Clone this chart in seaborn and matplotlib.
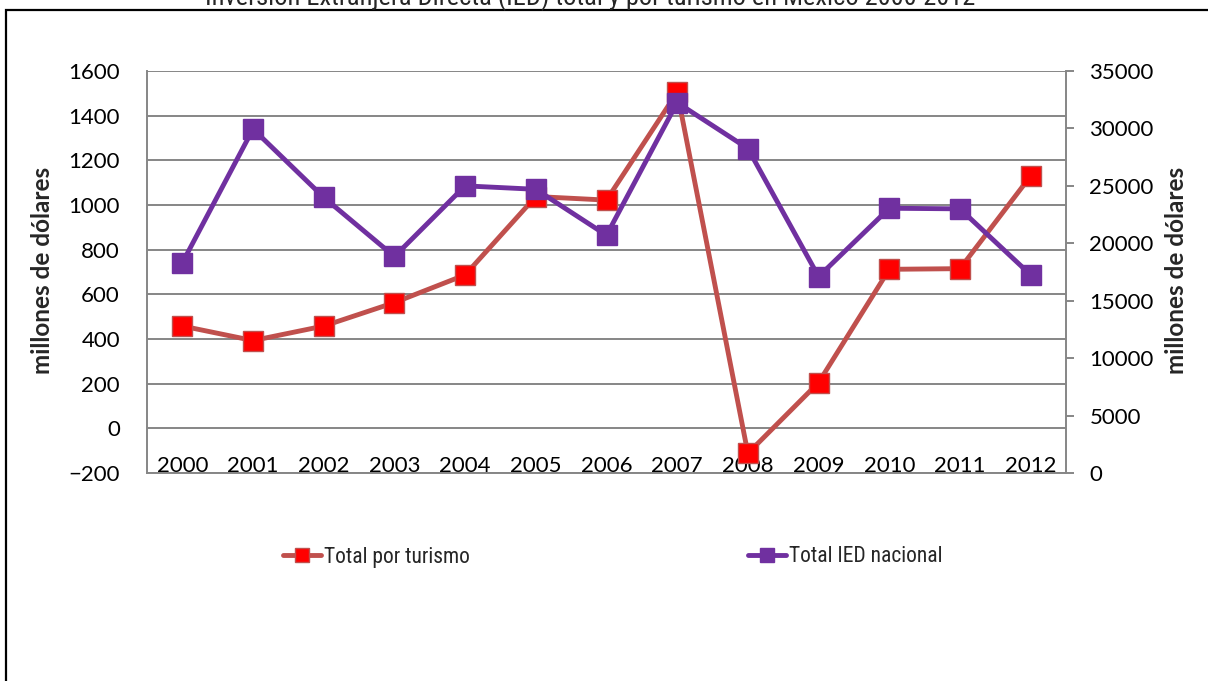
import matplotlib
matplotlib.use("Agg")
import matplotlib.pyplot as plt
from matplotlib import font_manager as fm
from matplotlib.lines import Line2D
from matplotlib.patches import Rectangle
import numpy as np
import pandas as pd
import seaborn as sns

# ---- data ----
years = ["2000", "2001", "2002", "2003", "2004", "2005", "2006",
         "2007", "2008", "2009", "2010", "2011", "2012"]
turismo = [458, 393, 458, 563, 687, 1038, 1022, 1505, -112, 205, 712, 715, 1130]
ied_nacional = [18300, 29950, 24000, 18850, 25000, 24700, 20700,
                32250, 28250, 17100, 23050, 23000, 17250]
left_ticks = [-200, 0, 200, 400, 600, 800, 1000, 1200, 1400, 1600]
right_ticks = [0, 5000, 10000, 15000, 20000, 25000, 30000, 35000]
title = "Inversión Extranjera Directa (IED) total y por turismo en México 2000-2012"
ylabel = "millones de dólares"
series_names = ["Total por turismo", "Total IED nacional"]

df = pd.DataFrame({"year": years, "turismo": turismo, "ied": ied_nacional})


def pick(names):
    for n in names:
        try:
            fm.findfont(fm.FontProperties(family=n), fallback_to_default=False)
            return n
        except Exception:
            pass
    return "DejaVu Sans"


sns.set_theme(style="white")
body_font = pick(["Lato", "Open Sans", "DejaVu Sans"])
narrow_font = pick(["Liberation Sans Narrow", "Roboto Condensed", "Liberation Sans"])
plt.rcParams["font.family"] = [body_font, "DejaVu Sans"]

W, H = 1208, 681
fig = plt.figure(figsize=(W / 100, H / 100), dpi=100)
fig.patch.set_facecolor("white")

x0, x1, y0, y1 = 147, 1066, 71, 473
ax = fig.add_axes([x0 / W, 1 - y1 / H, (x1 - x0) / W, (y1 - y0) / H])
ax2 = ax.twinx()

red_line = "#C0504D"
red_marker = "#FF0000"
purple = "#7030A0"
grey = "#868686"

sns.lineplot(data=df, x="year", y="turismo", ax=ax, sort=False, legend=False,
             color=red_line, lw=3.5, marker="s", markersize=14,
             markerfacecolor=red_marker, markeredgecolor=red_line, markeredgewidth=1)
sns.lineplot(data=df, x="year", y="ied", ax=ax2, sort=False, legend=False,
             color=purple, lw=3.5, marker="s", markersize=14,
             markerfacecolor=purple, markeredgecolor=purple, markeredgewidth=1)

ax.set_xlim(-0.5, len(years) - 0.5)
ax.set_ylim(-200, 1600)
ax2.set_ylim(0, 35000)
ax.set_yticks(left_ticks)
ax2.set_yticks(right_ticks)
ax.set_xticks(range(len(years)))
ax.set_xticklabels(years)

ax.set_xlabel("")
ax.set_ylabel("")
ax2.set_ylabel("")

ax.yaxis.grid(True, color=grey, lw=1.4)
ax.xaxis.grid(False)
ax2.grid(False)
ax.set_axisbelow(True)

for s in ["top", "right"]:
    ax.spines[s].set_visible(False)
for s in ["left", "bottom"]:
    ax.spines[s].set_color(grey)
    ax.spines[s].set_linewidth(1.4)
for s in ["left", "top", "bottom"]:
    ax2.spines[s].set_visible(False)
ax2.spines["right"].set_color(grey)
ax2.spines["right"].set_linewidth(1.4)

fs = 16
ax.tick_params(axis="x", length=0, pad=-12.5, labelsize=fs, labelcolor="black")
ax.tick_params(axis="y", left=False, length=0, pad=19.5, labelsize=fs, labelcolor="black")
ax2.tick_params(axis="y", right=True, length=5.8, width=1.4, color=grey, pad=11,
                labelsize=fs, labelcolor="black")

fig.text(43 / W, 1 - 270 / H, ylabel, rotation=90, ha="center", va="center",
         fontsize=17.5, fontweight="bold")
fig.text(1176 / W, 1 - 270 / H, ylabel, rotation=90, ha="center", va="center",
         fontsize=17.5, fontweight="bold")

fig.text(590 / W, 1 - 5 / H, title, ha="center", va="baseline", fontsize=19,
         family=[narrow_font, "DejaVu Sans"])

# frame
fig.patches.append(Rectangle((5.5 / W, -0.1), 1.2, 1.1 - 10 / H, transform=fig.transFigure,
                             fill=False, ec="black", lw=1.6))

h1 = Line2D([], [], color=red_line, lw=3.5, marker="s", markersize=10,
            markerfacecolor=red_marker, markeredgecolor=red_line)
h2 = Line2D([], [], color=purple, lw=3.5, marker="s", markersize=10,
            markerfacecolor=purple, markeredgecolor=purple)
for h, name, xpos in [(h1, series_names[0], 283), (h2, series_names[1], 748)]:
    fig.legend(handles=[h], labels=[name], loc="center left",
               bbox_to_anchor=(xpos / W, 1 - 557 / H), frameon=False,
               borderpad=0, borderaxespad=0, handlelength=1.75, handletextpad=0.15,
               prop={"family": [narrow_font, "DejaVu Sans"], "size": 15.5})

fig.savefig("out.png", dpi=100, facecolor="white")
